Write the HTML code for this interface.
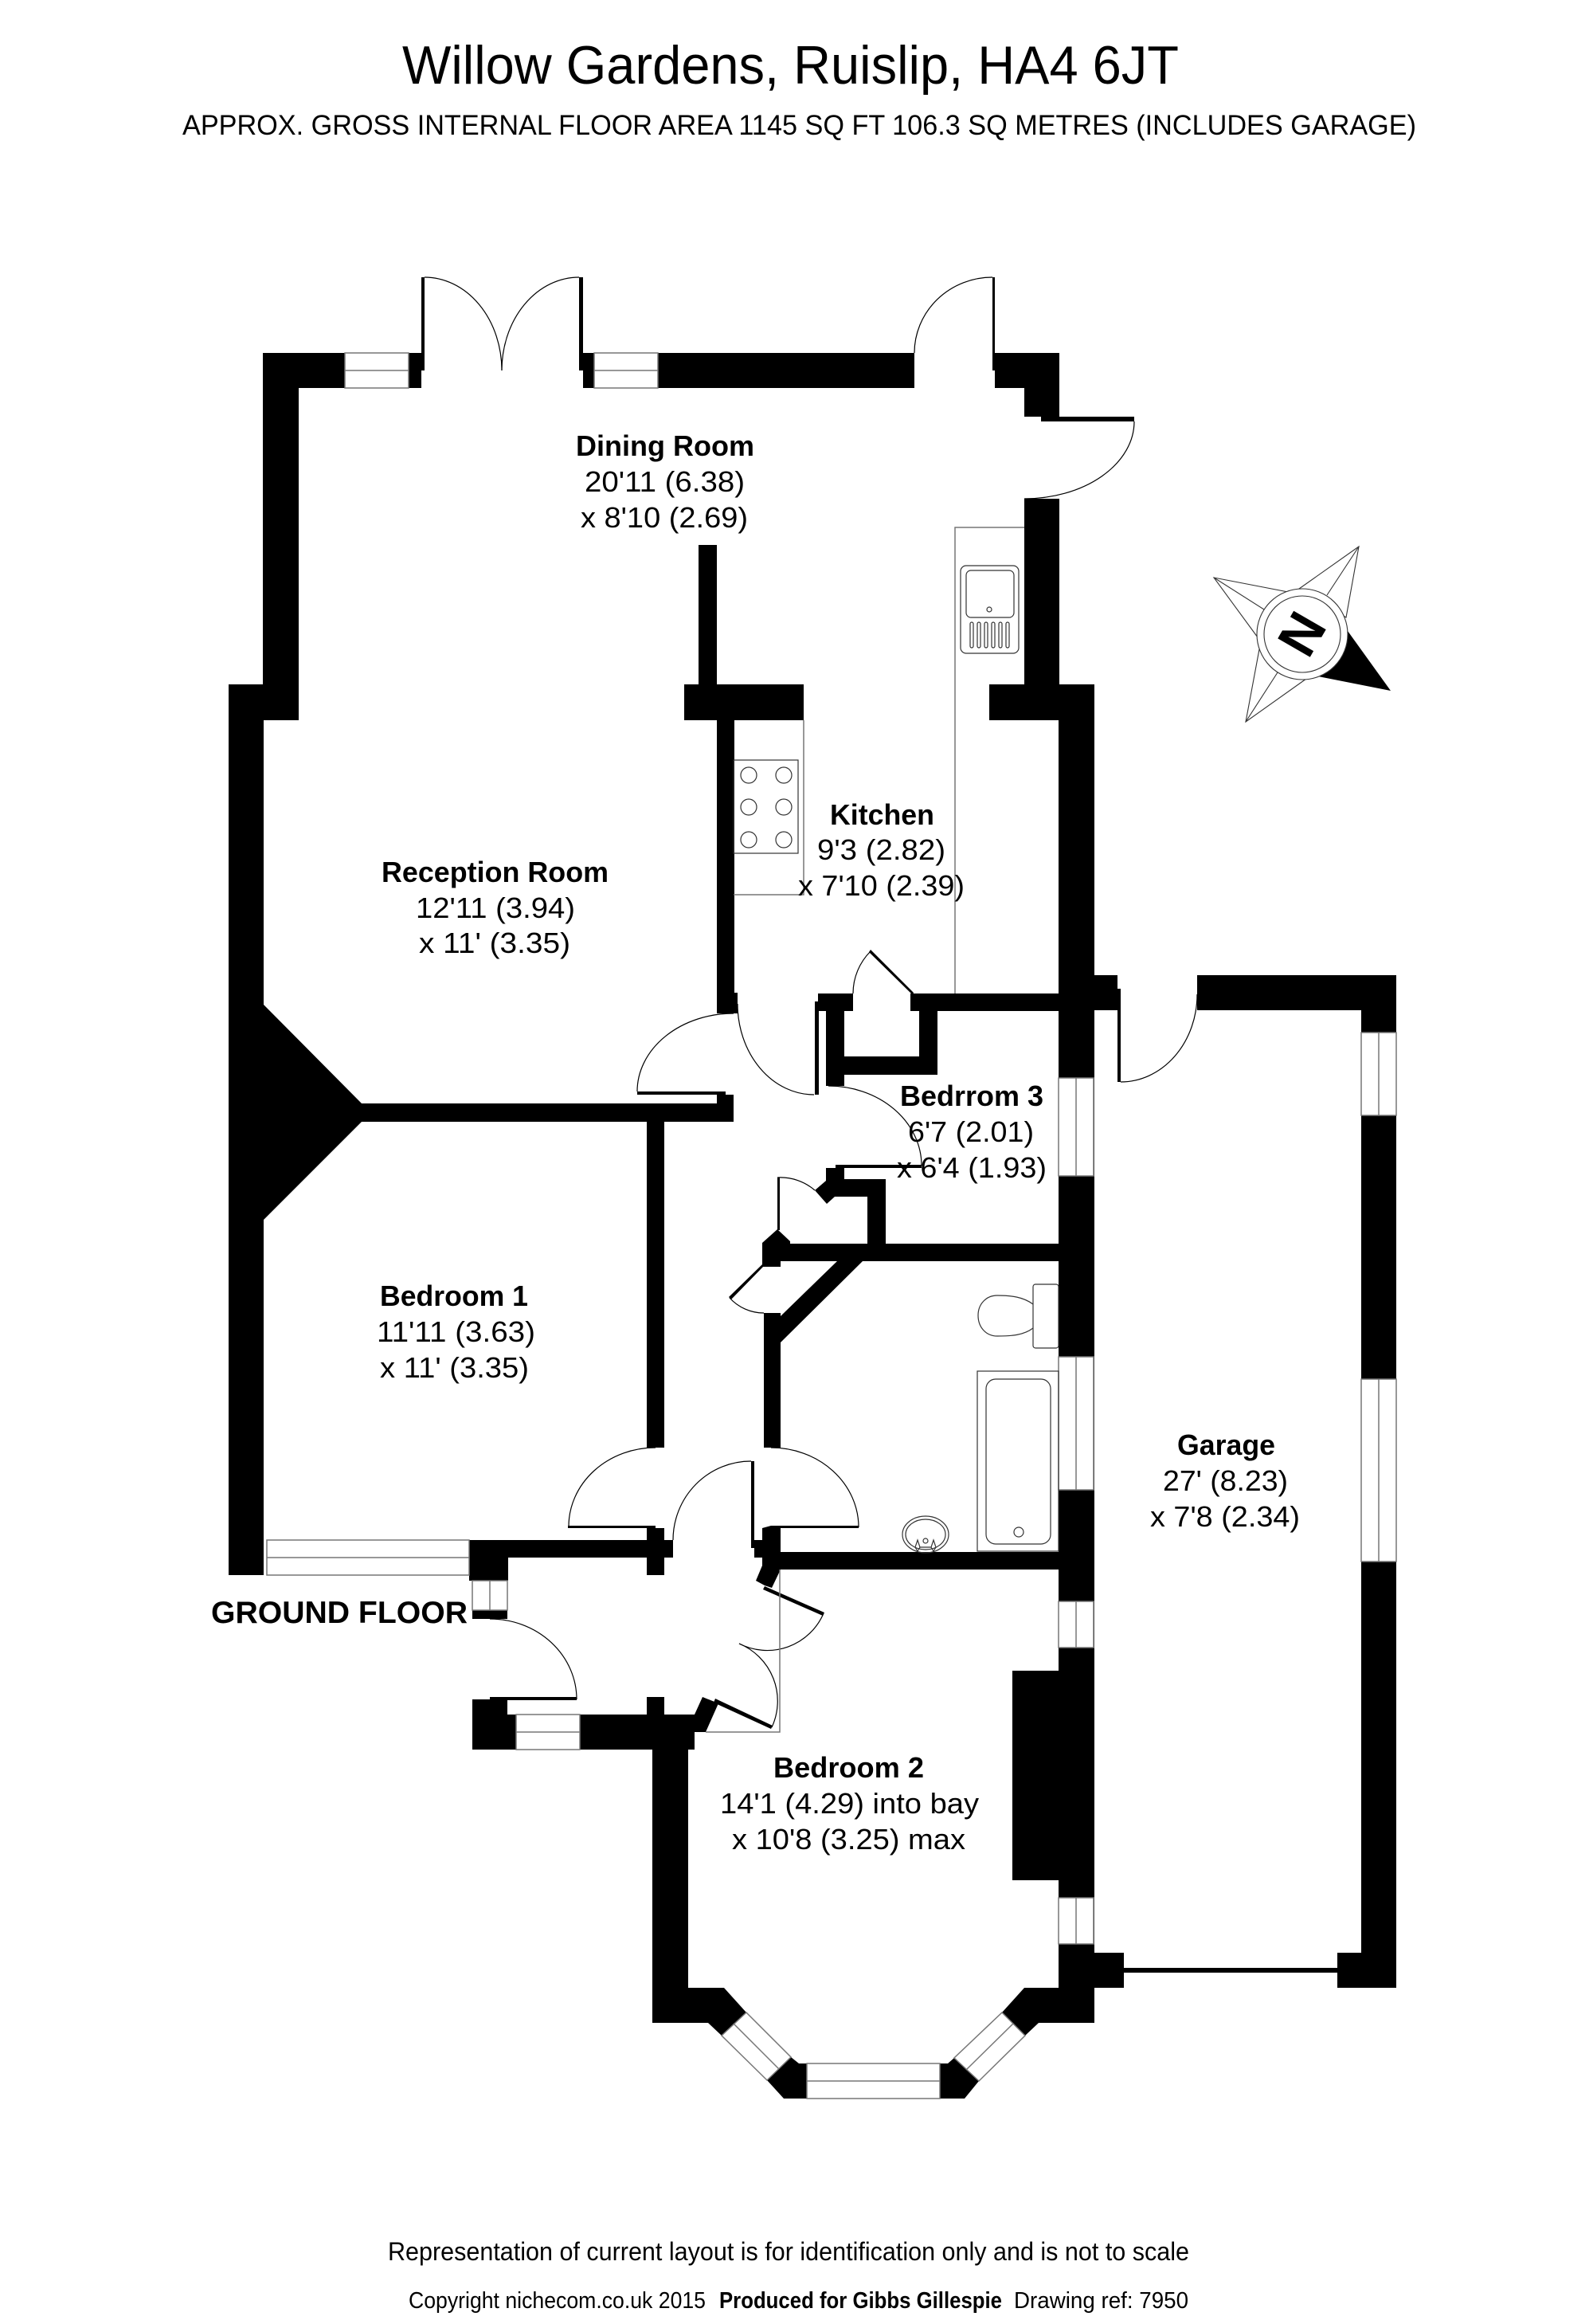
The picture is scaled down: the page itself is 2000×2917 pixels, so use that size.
<!DOCTYPE html>
<html><head><meta charset="utf-8"><title>Willow Gardens floor plan</title>
<style>html,body{margin:0;padding:0;background:#fff}svg{display:block}
text{font-family:"Liberation Sans",sans-serif;fill:#000}
.b{font-weight:bold}
.w{fill:#fff;stroke:#777;stroke-width:1.5}
.l{fill:none;stroke:#777;stroke-width:1.5}
.a{fill:none;stroke:#000;stroke-width:1.2}
.t{fill:none;stroke:#333;stroke-width:1.2}
</style></head><body>
<svg xmlns="http://www.w3.org/2000/svg" width="2000" height="2917" viewBox="0 0 2000 2917">
<rect width="2000" height="2917" fill="#fff"/>
<!-- walls -->
<g fill="#000">
<rect x="330" y="443" width="45" height="461"/><rect x="330" y="443" width="103" height="44"/>
<rect x="513" y="443" width="16" height="44"/><rect x="529" y="348" width="4" height="117"/><rect x="513" y="443" width="20" height="22"/>
<rect x="727" y="348" width="5" height="117"/><rect x="727" y="443" width="19" height="22"/><rect x="732" y="443" width="14" height="44"/>
<rect x="826" y="443" width="322" height="44"/>
<rect x="1246" y="348" width="3" height="117"/><rect x="1246" y="443" width="84" height="22"/><rect x="1249" y="443" width="81" height="44"/>
<rect x="1286" y="443" width="44" height="80"/><rect x="1307" y="523" width="117" height="6"/><rect x="1307" y="443" width="23" height="86"/>
<rect x="1286" y="626" width="44" height="233"/><rect x="1242" y="859" width="132" height="45"/>
<rect x="287" y="859" width="88" height="45"/><rect x="287" y="859" width="44" height="1118"/>
<polygon points="331,1261 454,1385 921,1385 921,1408 454,1408 331,1531"/>
<rect x="877" y="684" width="23" height="175"/><rect x="859" y="859" width="150" height="45"/>
<rect x="900" y="904" width="22" height="368"/><rect x="922" y="1246" width="4" height="26"/>
<rect x="900" y="1374" width="21" height="11"/><rect x="800" y="1370" width="111" height="4"/>
<rect x="812" y="1408" width="22" height="409"/>
<rect x="1023" y="1257" width="5" height="117"/><rect x="1027" y="1247" width="44" height="22"/>
<rect x="1037" y="1247" width="23" height="116"/><rect x="1037" y="1326" width="140" height="23"/>
<rect x="1154" y="1247" width="23" height="102"/><rect x="1143" y="1247" width="231" height="22"/>
<polygon points="1093,1192 1147,1246 1146,1249 1091,1195"/>
<rect x="1049" y="1462" width="108" height="4"/>
<polygon points="1037,1466 1060,1466 1060,1480 1112,1480 1112,1561 1089,1561 1089,1502 1048,1502 1038,1511 1023,1494 1037,1482"/>
<rect x="976" y="1478" width="3" height="66"/>
<polygon points="957,1560 976,1543 992,1558 992,1561 1329,1561 1329,1583 1083,1583 980,1685 980,1817 959,1817 959,1648 980,1648 980,1652 1051,1583 980,1583 980,1590 957,1590"/>
<polygon points="957,1587 959,1589 918,1631 915,1628"/>
<rect x="1329" y="859" width="45" height="1680"/>
<rect x="1271" y="2097" width="60" height="263"/>
<!-- hall -->
<rect x="713" y="1915" width="110" height="3"/><rect x="812" y="1918" width="22" height="59"/>
<rect x="589" y="1933" width="256" height="22"/><rect x="589" y="1933" width="49" height="51"/>
<rect x="593" y="2021" width="44" height="11"/>
<rect x="615" y="2130" width="109" height="4"/><rect x="593" y="2133" width="22" height="63"/><rect x="615" y="2131" width="22" height="65"/><rect x="637" y="2152" width="11" height="44"/>
<rect x="728" y="2152" width="144" height="44"/><rect x="812" y="2130" width="22" height="22"/>
<polygon points="872,2152 882,2130 902,2138 886,2174 864,2174 864,2196 819,2196 819,2152"/>
<rect x="943" y="1834" width="4" height="109"/><rect x="947" y="1933" width="10" height="22"/>
<polygon points="957,1918 968,1915 1078,1915 1078,1918 980,1918 980,1948 1329,1948 1329,1970 980,1970 969,1993 960,1990 949,1984 957,1965"/>
<polygon points="960,1991 1035,2024 1033,2028 958,1995"/>
<polygon points="898,2132 970,2166 968,2170 896,2137"/>
<!-- bedroom 2 / bay -->
<polygon points="819,2196 864,2196 864,2495 909,2495 937,2526 906,2555 889,2539 819,2539"/>
<polygon points="993,2582 1003,2590 1013,2590 1013,2634 984,2634 963,2611"/>
<polygon points="1198,2583 1190,2590 1180,2590 1180,2634 1211,2634 1229,2612"/>
<polygon points="1258,2526 1286,2495 1330,2495 1330,2440 1374,2440 1374,2539 1304,2539 1287,2555"/>
<!-- garage -->
<rect x="1373" y="1224" width="30" height="44"/><rect x="1373" y="1241" width="34" height="27"/><rect x="1403" y="1241" width="4" height="117"/>
<rect x="1503" y="1224" width="250" height="44"/><rect x="1709" y="1224" width="44" height="1271"/>
<rect x="1373" y="2451" width="38" height="44"/><rect x="1411" y="2470" width="268" height="6"/><rect x="1679" y="2451" width="30" height="44"/>
</g>
<!-- windows -->
<g>
<rect class="w" x="433" y="443" width="80" height="44"/><path class="l" d="M433 465H513"/>
<rect class="w" x="746" y="443" width="80" height="44"/><path class="l" d="M746 465H826"/>
<rect class="w" x="335" y="1933" width="254" height="44"/><path class="l" d="M335 1955H589"/>
<rect class="w" x="593" y="1984" width="44" height="37"/><path class="l" d="M615 1984V2021"/>
<rect class="w" x="648" y="2152" width="80" height="44"/><path class="l" d="M648 2174H728"/>
<rect class="w" x="1329" y="1353" width="44" height="123"/><path class="l" d="M1351 1353V1476"/>
<rect class="w" x="1329" y="1703" width="44" height="167"/><path class="l" d="M1351 1703V1870"/>
<rect class="w" x="1329" y="2010" width="44" height="58"/><path class="l" d="M1351 2010V2068"/>
<rect class="w" x="1329" y="2382" width="44" height="58"/><path class="l" d="M1351 2382V2440"/>
<rect class="w" x="1709" y="1296" width="44" height="104"/><path class="l" d="M1731 1296V1400"/>
<rect class="w" x="1709" y="1731" width="44" height="229"/><path class="l" d="M1731 1731V1960"/>
<rect class="w" x="1013" y="2590" width="167" height="44"/><path class="l" d="M1013 2612H1180"/>
<polygon class="w" points="937,2526 906,2555 963,2611 993,2582"/><path class="l" d="M921,2540L978,2597"/>
<polygon class="w" points="1258,2526 1287,2555 1229,2612 1198,2583"/><path class="l" d="M1272,2540L1213,2598"/>
</g>
<!-- door arcs -->
<g class="a">
<path class="a" d="M533 348A97 117 0 0 1 630 465"/>
<path class="a" d="M727 348A97 117 0 0 0 630 465"/>
<path class="a" d="M1246 348A98 95 0 0 0 1148 443"/>
<path class="a" d="M1424 529A138 97 0 0 1 1286 626"/>
<path class="a" d="M921 1272A121 98 0 0 0 800 1370"/>
<path class="a" d="M926 1260A96 114 0 0 0 1022 1374"/>
<path class="a" d="M1040 1363A117 100 0 0 1 1157 1463"/>
<path class="a" d="M1071 1247A75 75 0 0 1 1093 1194"/>
<path class="a" d="M976 1478A66 66 0 0 1 1023 1494"/>
<path class="a" d="M916 1629A58 58 0 0 0 959 1648"/>
<path class="a" d="M823 1817A109 99 0 0 0 714 1916"/>
<path class="a" d="M845 1933A98 99 0 0 1 943 1834"/>
<path class="a" d="M968 1817A110 100 0 0 1 1078 1917"/>
<path class="a" d="M615 2032A109 101 0 0 1 724 2133"/>
<path class="a" d="M1034 2025A77 77 0 0 1 928 2063"/>
<path class="a" d="M928 2063A78 78 0 0 1 969 2168"/>
<path class="a" d="M1407 1358A96 110 0 0 0 1503 1248"/>
</g>
<!-- kitchen fittings -->
<path class="l" d="M1286 662H1199V1247"/>
<path class="l" d="M1009 904V1123H921"/>
<rect class="t" x="921" y="954" width="81" height="117"/>
<g class="t">
<circle class="t" cx="940" cy="973" r="10"/><circle class="t" cx="984" cy="973" r="10"/>
<circle class="t" cx="940" cy="1013" r="10"/><circle class="t" cx="984" cy="1013" r="10"/>
<circle class="t" cx="940" cy="1054" r="10"/><circle class="t" cx="984" cy="1054" r="10"/>
</g>
<rect class="t" x="1206" y="710" width="73" height="110" rx="7"/>
<rect class="t" x="1213" y="716" width="60" height="59" rx="6"/>
<circle class="t" cx="1242" cy="765" r="3"/>
<g class="t">
<rect class="t" x="1218" y="781" width="4" height="32" rx="2"/><rect class="t" x="1227" y="781" width="4" height="32" rx="2"/>
<rect class="t" x="1236" y="781" width="4" height="32" rx="2"/><rect class="t" x="1245" y="781" width="4" height="32" rx="2"/>
<rect class="t" x="1254" y="781" width="4" height="32" rx="2"/><rect class="t" x="1263" y="781" width="4" height="32" rx="2"/>
</g>
<!-- bathroom fittings -->
<rect class="t" x="1297" y="1612" width="32" height="80" rx="3"/>
<path class="t" d="M1297 1637C1285 1628 1270 1626 1252 1626C1238 1626 1228 1637 1228 1651C1228 1666 1238 1677 1252 1677C1270 1677 1285 1676 1297 1667"/>
<rect class="t" x="1227" y="1721" width="102" height="226"/>
<rect class="t" x="1238" y="1731" width="81" height="207" rx="12"/>
<circle class="t" cx="1279" cy="1923" r="6"/>
<ellipse class="t" cx="1162" cy="1926" rx="29" ry="23"/>
<ellipse class="t" cx="1162" cy="1926" rx="25" ry="19"/>
<circle class="t" cx="1162" cy="1934" r="3"/>
<path class="t" d="M1152 1933L1155 1942L1152 1947L1149 1942ZM1172 1933L1175 1942L1172 1947L1169 1942ZM1155 1942H1169"/>
<!-- bed2 thin line -->
<path class="l" d="M979 1970V2174H886"/>
<!-- compass -->
<g stroke="#333" stroke-width="1.1" fill="#fff">
<polygon points="1524,725 1617,743 1579,800"/><path d="M1524 725L1587 765"/>
<polygon points="1706,686 1631,739 1690,775"/><path d="M1706 686L1666 747"/>
<polygon points="1564,906 1581,815 1640,852"/><path d="M1564 906L1604 844"/>
</g>
<polygon points="1692,792 1746,867 1655,849" fill="#000"/>
<circle cx="1635" cy="796" r="57" fill="#fff" stroke="#333" stroke-width="1.1"/>
<circle cx="1635" cy="796" r="48" fill="#fff" stroke="#333" stroke-width="1.1"/>
<text class="b" x="0" y="0" font-size="68" text-anchor="middle" transform="translate(1635 796) rotate(120) translate(0 24)">N</text>
<!-- text -->
<text x="505" y="105" font-size="68" textLength="975" lengthAdjust="spacingAndGlyphs">Willow Gardens, Ruislip, HA4 6JT</text>
<text x="229" y="169" font-size="35" textLength="1549" lengthAdjust="spacingAndGlyphs">APPROX. GROSS INTERNAL FLOOR AREA 1145 SQ FT 106.3 SQ METRES (INCLUDES GARAGE)</text>
<g font-size="36">
<text class="b" x="723" y="572" textLength="224" lengthAdjust="spacingAndGlyphs">Dining Room</text>
<text x="734" y="617" textLength="201" lengthAdjust="spacingAndGlyphs">20'11 (6.38)</text>
<text x="729" y="662" textLength="210" lengthAdjust="spacingAndGlyphs">x 8'10 (2.69)</text>
<text class="b" x="1042" y="1035" textLength="131" lengthAdjust="spacingAndGlyphs">Kitchen</text>
<text x="1026" y="1079" textLength="161" lengthAdjust="spacingAndGlyphs">9'3 (2.82)</text>
<text x="1002" y="1124" textLength="209" lengthAdjust="spacingAndGlyphs">x 7'10 (2.39)</text>
<text class="b" x="479" y="1107" textLength="285" lengthAdjust="spacingAndGlyphs">Reception Room</text>
<text x="522" y="1152" textLength="200" lengthAdjust="spacingAndGlyphs">12'11 (3.94)</text>
<text x="526" y="1196" textLength="190" lengthAdjust="spacingAndGlyphs">x 11' (3.35)</text>
<text class="b" x="1130" y="1388" textLength="180" lengthAdjust="spacingAndGlyphs">Bedrrom 3</text>
<text x="1140" y="1433" textLength="158" lengthAdjust="spacingAndGlyphs">6'7 (2.01)</text>
<text x="1126" y="1478" textLength="188" lengthAdjust="spacingAndGlyphs">x 6'4 (1.93)</text>
<text class="b" x="477" y="1639" textLength="186" lengthAdjust="spacingAndGlyphs">Bedroom 1</text>
<text x="473" y="1684" textLength="199" lengthAdjust="spacingAndGlyphs">11'11 (3.63)</text>
<text x="477" y="1729" textLength="187" lengthAdjust="spacingAndGlyphs">x 11' (3.35)</text>
<text class="b" x="971" y="2231" textLength="189" lengthAdjust="spacingAndGlyphs">Bedroom 2</text>
<text x="904" y="2276" textLength="325" lengthAdjust="spacingAndGlyphs">14'1 (4.29) into bay</text>
<text x="919" y="2321" textLength="293" lengthAdjust="spacingAndGlyphs">x 10'8 (3.25) max</text>
<text class="b" x="1478" y="1826" textLength="123" lengthAdjust="spacingAndGlyphs">Garage</text>
<text x="1460" y="1871" textLength="157" lengthAdjust="spacingAndGlyphs">27' (8.23)</text>
<text x="1444" y="1916" textLength="188" lengthAdjust="spacingAndGlyphs">x 7'8 (2.34)</text>
</g>
<text class="b" x="265" y="2037" font-size="39" textLength="322" lengthAdjust="spacingAndGlyphs">GROUND FLOOR</text>
<text x="487" y="2837" font-size="32" textLength="1006" lengthAdjust="spacingAndGlyphs">Representation of current layout is for identification only and is not to scale</text>
<g font-size="29">
<text x="513" y="2897" textLength="373" lengthAdjust="spacingAndGlyphs">Copyright nichecom.co.uk 2015</text>
<text class="b" x="903" y="2897" textLength="355" lengthAdjust="spacingAndGlyphs">Produced for Gibbs Gillespie</text>
<text x="1273" y="2897" textLength="219" lengthAdjust="spacingAndGlyphs">Drawing ref:  7950</text>
</g>
</svg>
</body></html>
